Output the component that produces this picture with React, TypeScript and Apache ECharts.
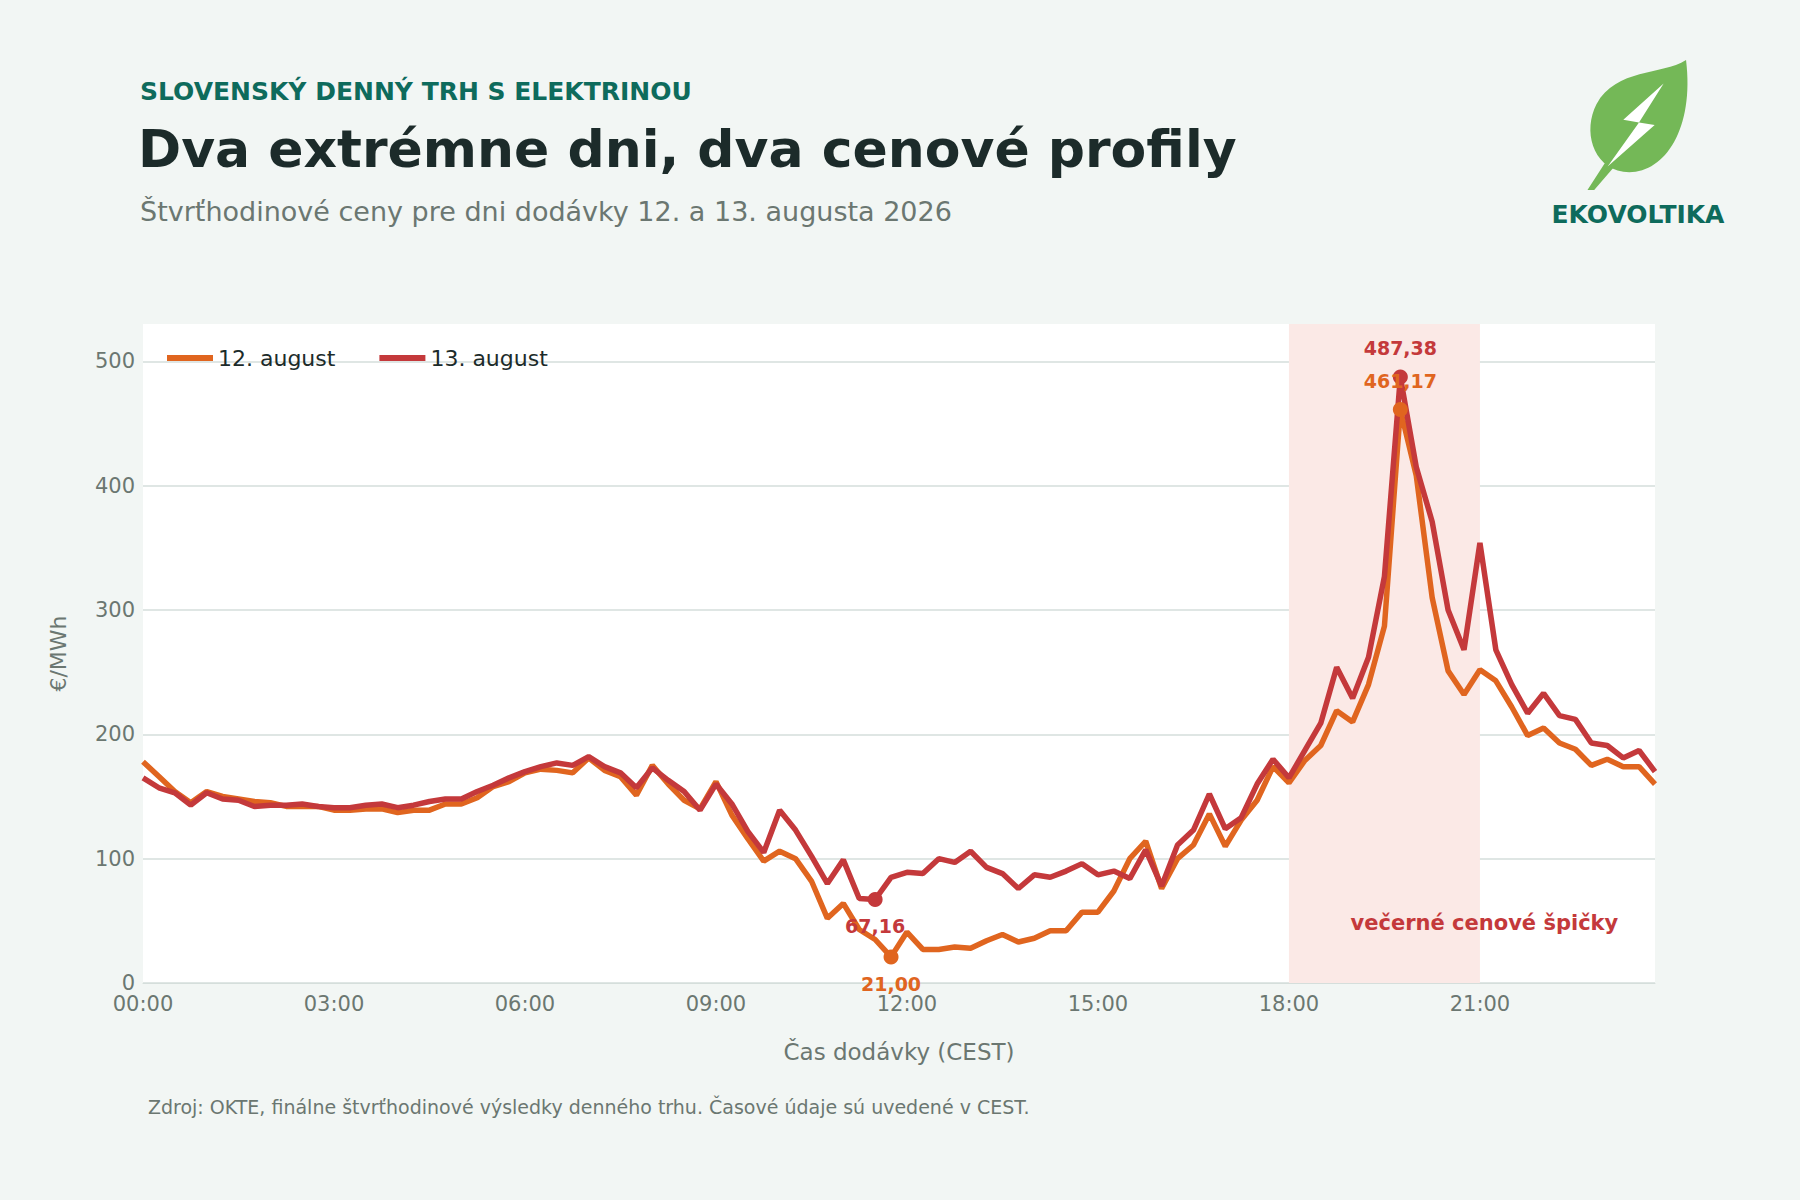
import { useEffect, useRef } from "react";
import * as echarts from "echarts";

// quarter-hour prices, €/MWh
const aug12 = [
  178, 166, 154, 145, 154, 150, 148, 146, 145, 142, 142, 142,
  139, 139, 140, 140, 137, 139, 139, 144, 144, 149, 158, 162,
  169, 172, 171, 169, 181, 171, 166, 151, 175, 160, 147, 140,
  162, 135, 116, 98, 106, 100, 82, 52, 64, 43, 35, 21,
  41, 27, 27, 29, 28, 34, 39, 33, 36, 42, 42, 57,
  57, 74, 100, 114, 76, 100, 111, 136, 110, 131, 147, 174,
  161, 179, 191, 219, 210, 240, 287, 461.17, 408, 310, 251, 232,
  252, 243, 222, 199, 205, 193, 188, 175, 180, 174, 174, 160,
];
const aug13 = [
  165, 157, 153, 143, 153, 148, 147, 142, 143, 143, 144, 142,
  141, 141, 143, 144, 141, 143, 146, 148, 148, 154, 159, 165,
  170, 174, 177, 175, 182, 174, 169, 157, 173, 163, 154, 139,
  160, 144, 122, 105, 139, 123, 102, 80, 99, 68, 67.16, 85,
  89, 88, 100, 97, 106, 93, 88, 76, 87, 85, 90, 96,
  87, 90, 84, 107, 78, 111, 123, 152, 124, 133, 160, 180,
  165, 187, 209, 254, 229, 262, 327, 487.38, 415, 371, 300, 268,
  354, 268, 240, 217, 233, 215, 212, 193, 191, 181, 187, 170,
];
const times = aug12.map((_, i) => {
  const h = Math.floor(i / 4);
  const m = (i % 4) * 15;
  return `${String(h).padStart(2, "0")}:${String(m).padStart(2, "0")}`;
});

const ORANGE = "#e0651f";
const RED = "#c4393b";
const GREY = "#6b7771";
const fmt = (v: number) => v.toFixed(2).replace(".", ",");

echarts.graphic.registerShape(
  "leaf",
  echarts.graphic.extendPath(
    "M92 0 C70 12 30 6 12 34 C0 54 8 82 36 86 C70 90 100 56 92 0 Z M22 76 L4 100 L10 100 L30 80 Z",
    {}
  )
);
echarts.graphic.registerShape(
  "bolt",
  echarts.graphic.extendPath("M72 18 L36 46 L50 48 L22 82 L64 50 L50 48 Z", {})
);

const App = () => {
  const chartRef = useRef<HTMLDivElement>(null);

  useEffect(() => {
    if (!chartRef.current) return;
    document.body.style.margin = "0";
    const chart = echarts.init(chartRef.current, null, { renderer: "svg" });

    const minI12 = aug12.indexOf(Math.min(...aug12));
    const maxI12 = aug12.indexOf(Math.max(...aug12));
    const minI13 = aug13.indexOf(Math.min(...aug13));
    const maxI13 = aug13.indexOf(Math.max(...aug13));

    const point = (i: number, v: number, color: string, pos: "top" | "bottom", off: number) => ({
      coord: [i, v],
      value: v,
      symbol: "circle",
      symbolSize: 15,
      itemStyle: { color },
      label: {
        show: true,
        position: pos,
        distance: off,
        formatter: fmt(v),
        color,
        fontSize: 19,
        fontWeight: "bold",
        fontFamily: "DejaVu Sans",
      },
    });

    chart.setOption({
      animation: false,
      backgroundColor: "#f2f6f4",
      textStyle: { fontFamily: "DejaVu Sans" },
      title: [
        {
          text: "SLOVENSKÝ DENNÝ TRH S ELEKTRINOU",
          left: 135,
          top: 74,
          textStyle: { color: "#0e6b5c", fontSize: 25, fontWeight: "bold", fontFamily: "DejaVu Sans" },
        },
        {
          text: "Dva extrémne dni, dva cenové profily",
          left: 133,
          top: 118,
          textStyle: { color: "#1c2b2a", fontSize: 52, fontWeight: "bold", fontFamily: "DejaVu Sans" },
        },
        {
          text: "Štvrťhodinové ceny pre dni dodávky 12. a 13. augusta 2026",
          left: 135,
          top: 193,
          textStyle: { color: GREY, fontSize: 27, fontWeight: "normal", fontFamily: "DejaVu Sans" },
        },
        {
          text: "Zdroj: OKTE, finálne štvrťhodinové výsledky denného trhu. Časové údaje sú uvedené v CEST.",
          left: 143,
          top: 1092,
          textStyle: { color: GREY, fontSize: 19, fontWeight: "normal", fontFamily: "DejaVu Sans" },
        },
      ],
      graphic: [
        { type: "leaf", x: 1583, y: 60, scaleX: 1.12, scaleY: 1.3, style: { fill: "#74b857" } },
        { type: "bolt", x: 1583, y: 60, scaleX: 1.12, scaleY: 1.3, style: { fill: "#ffffff" } },
        {
          type: "text",
          x: 1638,
          y: 214,
          style: {
            text: "EKOVOLTIKA",
            fill: "#0e6b5c",
            font: "bold 25px 'DejaVu Sans'",
            align: "center",
            verticalAlign: "middle",
          },
        },
      ],
      legend: {
        left: 162,
        top: 342,
        itemWidth: 46,
        itemHeight: 6,
        itemGap: 44,
        icon: "rect",
        textStyle: { color: "#1c2b2a", fontSize: 22, fontFamily: "DejaVu Sans" },
        data: ["12. august", "13. august"],
      },
      grid: { left: 143, right: 145, top: 324, bottom: 217, backgroundColor: "#ffffff", show: true, borderWidth: 0 },
      xAxis: {
        type: "category",
        data: times,
        boundaryGap: false,
        name: "Čas dodávky (CEST)",
        nameLocation: "middle",
        nameGap: 57,
        nameTextStyle: { color: GREY, fontSize: 23 },
        axisLine: { lineStyle: { color: "#d5dedb" } },
        axisTick: { show: false },
        axisLabel: {
          color: GREY,
          fontSize: 21,
          margin: 10,
          interval: (i: number) => i % 12 === 0,
        },
        splitLine: { show: false },
      },
      yAxis: {
        type: "value",
        min: 0,
        max: 530,
        interval: 100,
        name: "€/MWh",
        nameLocation: "middle",
        nameGap: 74,
        nameTextStyle: { color: GREY, fontSize: 22 },
        axisLine: { show: false },
        axisTick: { show: false },
        axisLabel: { color: GREY, fontSize: 21, margin: 8, showMaxLabel: false },
        splitLine: { showMaxLine: false, lineStyle: { color: "#d5dedb", width: 1.5 } },
      },
      series: [
        {
          name: "12. august",
          type: "line",
          data: aug12,
          showSymbol: false,
          color: ORANGE,
          lineStyle: { width: 5.5, color: ORANGE },
          markArea: {
            silent: true,
            itemStyle: { color: "#fbe9e6" },
            label: {
              show: true,
              position: "insideBottom",
              distance: 50,
              offset: [100, 0],
              formatter: "večerné cenové špičky",
              color: RED,
              fontSize: 21,
              fontWeight: "bold",
            },
            data: [[{ xAxis: "18:00" }, { xAxis: "21:00" }]],
          },
          markPoint: {
            data: [
              point(minI12, aug12[minI12], ORANGE, "bottom", 10),
              point(maxI12, aug12[maxI12], ORANGE, "top", 12),
            ],
          },
          z: 2,
        },
        {
          name: "13. august",
          type: "line",
          data: aug13,
          showSymbol: false,
          color: RED,
          lineStyle: { width: 5.5, color: RED },
          markPoint: {
            data: [
              point(minI13, aug13[minI13], RED, "bottom", 10),
              point(maxI13, aug13[maxI13], RED, "top", 12),
            ],
          },
          z: 3,
        },
      ],
    });

    return () => chart.dispose();
  }, []);

  return <div ref={chartRef} style={{ width: 1800, height: 1200 }} />;
};

export default App;
